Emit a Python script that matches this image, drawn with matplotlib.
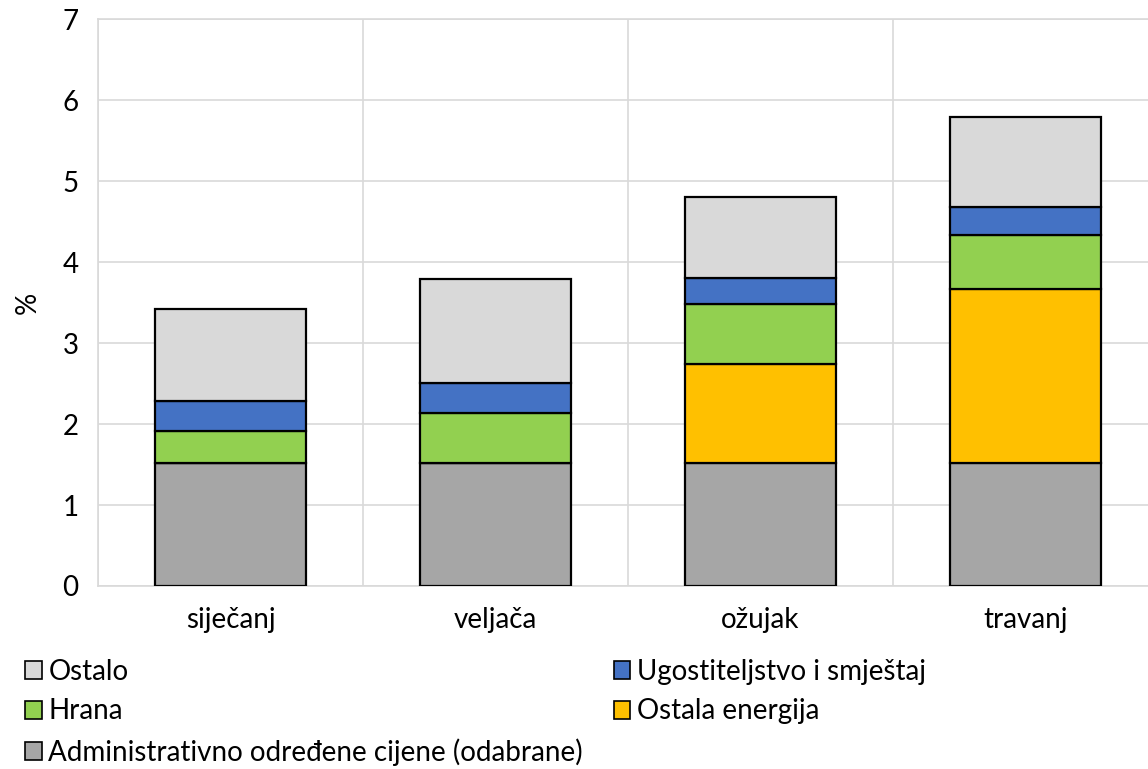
import numpy as np
import matplotlib.pyplot as plt
from matplotlib.patches import Patch

months = ["siječanj", "veljača", "ožujak", "travanj"]

administrativno = [1.52, 1.52, 1.52, 1.52]
energija = [0.0, 0.0, 1.22, 2.15]
hrana = [0.39, 0.62, 0.74, 0.66]
ugostiteljstvo = [0.38, 0.37, 0.33, 0.35]
ostalo = [1.13, 1.28, 1.00, 1.11]

series = [
    ("Administrativno određene cijene (odabrane)", administrativno, "#A6A6A6"),
    ("Ostala energija", energija, "#FFC000"),
    ("Hrana", hrana, "#92D050"),
    ("Ugostiteljstvo i smještaj", ugostiteljstvo, "#4472C4"),
    ("Ostalo", ostalo, "#D9D9D9"),
]

plt.rcParams['font.family'] = ['Lato', 'DejaVu Sans']
fs = 20

fig = plt.figure(figsize=(11.48, 7.69), dpi=100)
ax = fig.add_axes([0.0855, 0.238, 0.923, 0.737])

x = np.arange(len(months))
bottom = np.zeros(len(months))
handles = {}
for name, vals, color in series:
    vals = np.array(vals)
    ax.bar(x, vals, bottom=bottom, width=0.57, color=color,
           edgecolor="black", linewidth=1.6, zorder=3)
    bottom += vals
    handles[name] = Patch(facecolor=color, edgecolor="black", linewidth=1.2)

ax.set_xlim(-0.5, len(months) - 0.5)
ax.set_ylim(0, 7)
ax.set_yticks(range(0, 8))
ax.set_xticks(x)
ax.set_xticklabels(months)
ax.set_xticks(np.arange(-0.5, len(months)), minor=True)
ax.grid(axis="y", color="#D9D9D9", linewidth=1.2, zorder=0)
ax.grid(axis="x", which="minor", color="#D9D9D9", linewidth=1.2, zorder=0)
ax.tick_params(axis="both", which="both", length=0, labelsize=fs, pad=14)
ax.tick_params(axis="x", pad=15)
for s in ax.spines.values():
    s.set_color("#D9D9D9")
    s.set_linewidth(1.2)
ax.set_ylabel("%", fontsize=fs, labelpad=16)

order = ["Ostalo", "Hrana", "Administrativno određene cijene (odabrane)",
         "Ugostiteljstvo i smještaj", "Ostala energija"]
fig.legend([handles[n] for n in order], order, ncol=2,
           loc="upper left", bbox_to_anchor=(0.012, 0.158),
           frameon=False, fontsize=fs, handlelength=0.6, handleheight=0.6,
           handletextpad=0.25, columnspacing=1.1, labelspacing=0.5,
           borderaxespad=0)

fig.savefig("out.png", dpi=100)
